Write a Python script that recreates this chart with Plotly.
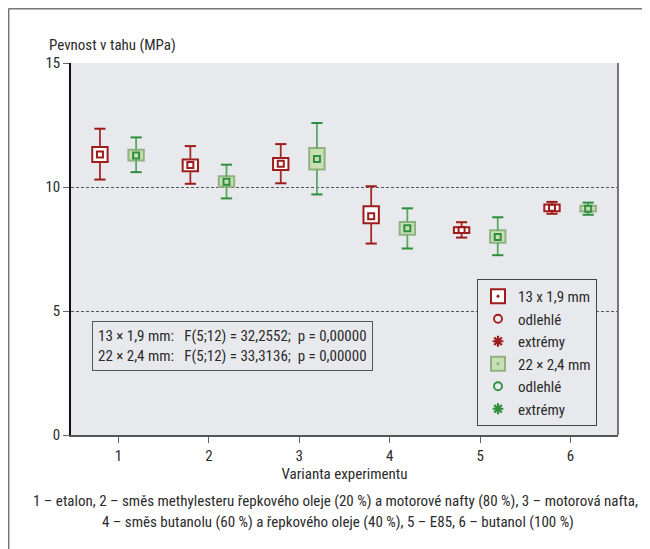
import plotly.graph_objects as go

# ---------------- data ----------------
categories = [1, 2, 3, 4, 5, 6]
tick_labels = ["1", "2", "3", "4", "5", "6"]

# 13 x 1,9 mm
a_median = [11.31, 10.89, 10.94, 8.82, 8.27, 9.16]
a_q1 = [11.01, 10.64, 10.69, 8.54, 8.15, 9.02]
a_q3 = [11.61, 11.11, 11.17, 9.22, 8.38, 9.29]
a_min = [10.30, 10.13, 10.15, 7.72, 7.96, 8.92]
a_max = [12.35, 11.65, 11.73, 10.03, 8.58, 9.40]

# 22 x 2,4 mm
b_median = [11.27, 10.21, 11.13, 8.34, 7.98, 9.12]
b_q1 = [11.07, 10.01, 10.71, 8.07, 7.75, 9.01]
b_q3 = [11.50, 10.43, 11.57, 8.59, 8.26, 9.24]
b_min = [10.60, 9.54, 9.70, 7.52, 7.25, 8.88]
b_max = [12.00, 10.90, 12.58, 9.14, 8.78, 9.37]

series_a_name = "13 x 1,9 mm"
series_b_name = "22 × 2,4 mm"
stats_lines = ["13 × 1,9 mm:   F(5;12) = 32,2552;  p = 0,00000",
               "22 × 2,4 mm:   F(5;12) = 33,3136;  p = 0,00000"]
footer_1 = "1 – etalon, 2 – směs methylesteru řepkového oleje (20 %) a motorové nafty (80 %), 3 – motorová nafta,"
footer_2 = "4 – směs butanolu (60 %) a řepkového oleje (40 %), 5 – E85, 6 – butanol (100 %)"

# ---------------- styling ----------------
FONT = "Liberation Sans Narrow, Arial Narrow, Roboto Condensed, Liberation Sans, sans-serif"
FS = 15
TXT = "#2b2b2b"
BG = "#e8e9ec"
RED = "#9e1b1b"
RED_W = "#a52a2a"
GRN = "#2f8f3f"
GRN_W = "#5aa865"
GRN_FILL = "#c9e0b6"
GRN_EDGE = "#8fb27f"
OFF_A, OFF_B = -0.205, 0.195
BOXW = 0.17

# page has an 8px body margin; figure occupies page (8,8)-(650,549)
PAGE_OFF = 8
W, H = 642, 541
L, R, T, B = 63, 32, 55, 114
PW, PH = W - L - R, H - T - B


def px(xpage):
    return (xpage - PAGE_OFF - L) / PW


def py(ypage):
    return (H - B - (ypage - PAGE_OFF)) / PH


fig = go.Figure()


def add_series(off, med, q1, q3, lo, hi, fill, edge, wcol, ccol, mcol):
    xs = [c + off for c in categories]
    fig.add_trace(go.Bar(
        x=xs, y=[b - a for a, b in zip(q1, q3)], base=q1, width=BOXW,
        marker=dict(color=fill, line=dict(color=edge, width=2)),
        showlegend=False, hoverinfo="skip"))
    wx, wy = [], []
    for x, a, b, l, h in zip(xs, q1, q3, lo, hi):
        wx += [x, x, None, x, x, None]
        wy += [b, h, None, a, l, None]
    fig.add_trace(go.Scatter(x=wx, y=wy, mode="lines",
                             line=dict(color=wcol, width=1.8),
                             showlegend=False, hoverinfo="skip"))
    fig.add_trace(go.Scatter(x=xs + xs, y=hi + lo, mode="markers",
                             marker=dict(symbol="line-ew", size=8,
                                         line=dict(color=ccol, width=2)),
                             showlegend=False, hoverinfo="skip"))
    fig.add_trace(go.Scatter(x=xs, y=med, mode="markers",
                             marker=dict(symbol="square-open", size=6,
                                         color=mcol, line=dict(color=mcol, width=2)),
                             showlegend=False, hoverinfo="skip"))


add_series(OFF_A, a_median, a_q1, a_q3, a_min, a_max, "white", RED, RED_W, RED, RED)
add_series(OFF_B, b_median, b_q1, b_q3, b_min, b_max, GRN_FILL, GRN_EDGE, GRN_W, GRN, GRN)

# legend-only entries
legend_items = [
    (series_a_name, dict(symbol="square-dot", size=14, color="white", line=dict(color=RED, width=2))),
    ("odlehlé", dict(symbol="circle-open", size=8, color=RED, line=dict(color=RED, width=1.8))),
    ("extrémy", dict(symbol="asterisk", size=9, color=RED, line=dict(color=RED, width=2.2))),
    (series_b_name, dict(symbol="square-dot", size=14, color=GRN_FILL, line=dict(color=GRN_EDGE, width=2))),
    ("odlehlé", dict(symbol="circle-open", size=8, color=GRN, line=dict(color=GRN, width=1.8))),
    ("extrémy", dict(symbol="asterisk", size=9, color=GRN, line=dict(color=GRN, width=2.2))),
]
for name, mk in legend_items:
    fig.add_trace(go.Scatter(x=[None], y=[None], mode="markers", name=name,
                             marker=mk, showlegend=True))

fig.update_layout(
    width=W, height=H,
    margin=dict(l=L, r=R, t=T, b=B),
    paper_bgcolor="white", plot_bgcolor=BG,
    font=dict(family=FONT, size=FS, color=TXT),
    barmode="overlay",
    legend=dict(x=px(477), y=py(279), xanchor="left", yanchor="top",
                bgcolor=BG, bordercolor="#444", borderwidth=1,
                font=dict(size=FS, color=TXT), tracegroupgap=0,
                itemsizing="trace"),
    xaxis=dict(range=[0.475, 6.525], tickvals=categories, ticktext=tick_labels,
               showgrid=False, zeroline=False, showline=True, linecolor="#555",
               linewidth=1.5, ticks="outside", ticklen=6, tickcolor="#666",
               tickfont=dict(size=FS, color=TXT),
               title=dict(text="Varianta experimentu", standoff=4,
                          font=dict(size=FS, color=TXT))),
    yaxis=dict(range=[0, 15], tickvals=[0, 5, 10, 15],
               showgrid=True, gridcolor="#555", gridwidth=1, griddash="3px,2px",
               zeroline=False, showline=True, linecolor="#111", linewidth=1.5,
               ticks="outside", ticklen=6, tickcolor="#666",
               tickfont=dict(size=FS, color=TXT)),
    shapes=[
        dict(type="line", xref="paper", yref="paper", x0=1, x1=1, y0=0, y1=1,
             line=dict(color="#777", width=2)),
        dict(type="line", xref="paper", yref="paper", x0=px(8.5), x1=px(651),
             y0=py(8.7), y1=py(8.7), line=dict(color="#777", width=1.5)),
        dict(type="line", xref="paper", yref="paper", x0=px(8.7), x1=px(8.7),
             y0=py(8.5), y1=py(550), line=dict(color="#777", width=1.5)),
    ],
    annotations=[
        dict(text="Pevnost v tahu (MPa)", xref="paper", yref="paper",
             x=px(47), y=py(45), xanchor="left", yanchor="middle",
             showarrow=False, font=dict(size=FS, color=TXT)),
        dict(text="<br>".join(stats_lines), xref="paper", yref="paper",
             x=px(92), y=py(321), xanchor="left", yanchor="top", align="left",
             showarrow=False, bgcolor=BG, bordercolor="#555", borderwidth=1,
             borderpad=5, font=dict(size=FS, color=TXT)),
        dict(text=footer_1, xref="paper", yref="paper", x=px(335), y=py(501),
             xanchor="center", yanchor="middle", showarrow=False,
             font=dict(size=FS, color=TXT)),
        dict(text=footer_2, xref="paper", yref="paper", x=px(338), y=py(522),
             xanchor="center", yanchor="middle", showarrow=False,
             font=dict(size=FS, color=TXT)),
    ],
)

fig.write_html("out.html")
